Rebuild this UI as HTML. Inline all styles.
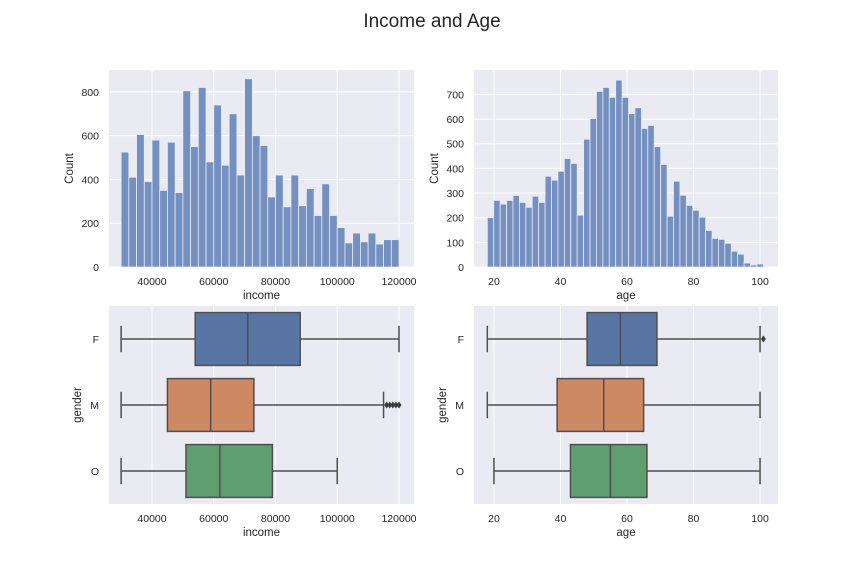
<!DOCTYPE html>
<html><head><meta charset="utf-8"><style>
body{margin:0;background:#fff;}
svg{display:block;font-family:"Liberation Sans",Arial,sans-serif;}
</style></head><body>
<svg id="chart" width="864" height="576">
<text x="432" y="27" text-anchor="middle" font-size="19" fill="#262626">Income and Age</text>
</svg>
<script>
const incomeCounts=[525,410,605,390,580,350,570,340,805,550,820,480,740,465,700,420,860,600,555,320,420,275,420,280,358,235,380,235,180,110,155,115,155,105,125,125];
const incomeRange=[30000,120000];
const ageCounts=[200,270,255,270,290,262,242,287,262,368,352,388,440,420,210,518,602,712,728,688,758,688,622,646,562,574,488,416,206,348,291,250,230,202,148,116,112,96,64,52,16,8,12];
const ageRange=[18,101];
const genders=["F","M","O"];
const incomeBoxes=[[30000,54000,71000,88000,120000],[30000,45000,59000,73000,115000],[30000,51000,62000,79000,100000]];
const incomeOutliers=[[],[116000,117000,118000,119000,120000],[]];
const ageBoxes=[[18,48,58,69,100],[18,39,53,65,100],[20,43,55,66,100]];
const ageOutliers=[[101],[],[]];
const incomeTicks=[40000,60000,80000,100000,120000];
const ageTicks=[20,40,60,80,100];
const incomeCountTicks=[0,200,400,600,800];
const ageCountTicks=[0,100,200,300,400,500,600,700];

const svg=document.getElementById('chart');
const NS='http://www.w3.org/2000/svg';
function mk(tag,attrs,parent){const e=document.createElementNS(NS,tag);for(const k in attrs)e.setAttribute(k,attrs[k]);(parent||svg).appendChild(e);return e;}
function lin(d0,d1,r0,r1){return v=>r0+(v-d0)*(r1-r0)/(d1-d0);}

function panel(name,L,R,T,B,xd,yd,xticks,yticks,xlabel,ylabel){
  const g=mk('g',{});
  
  
  const bg=mk('rect',{x:L,y:T,width:R-L,height:B-T,fill:'#eaeaf2'},g);
  
  
  const x=lin(xd[0],xd[1],L,R), y=lin(yd[0],yd[1],B,T);
  xticks.forEach(t=>{
    mk('line',{x1:x(t),x2:x(t),y1:T,y2:B,stroke:'#fff','stroke-width':1},g);
    const tx=mk('text',{x:x(t),y:B+18,'text-anchor':'middle','font-size':10.5,fill:'#262626'},g);
    tx.textContent=t;
    
    
  });
  yticks.forEach(t=>{
    const yy=y(t);
    mk('line',{x1:L,x2:R,y1:yy,y2:yy,stroke:'#fff','stroke-width':1},g);
    const tx=mk('text',{x:L-10,y:yy+4,'text-anchor':'end','font-size':10.5,fill:'#262626'},g);
    tx.textContent=t;
    
    
  });
  const xl=mk('text',{x:(L+R)/2,y:B+32,'text-anchor':'middle','font-size':11.5,fill:'#262626'},g);
  xl.textContent=xlabel;
  
  
  const yl=mk('text',{x:0,y:0,'text-anchor':'middle','font-size':11.5,fill:'#262626',transform:`translate(${ylabel==='gender'?L-28:L-36},${(T+B)/2}) rotate(-90)`},g);
  yl.textContent=ylabel;
  
  
  return {g,x,y};
}

function hist(name,L,R,T,B,xd,ymax,counts,range,xticks,yticks,xlabel){
  const p=panel(name,L,R,T,B,xd,[0,ymax],xticks,yticks,xlabel,'Count');
  const w=(range[1]-range[0])/counts.length;
  counts.forEach((c,i)=>{
    const x0=p.x(range[0]+i*w), x1=p.x(range[0]+(i+1)*w);
    const r=mk('rect',{x:x0,y:p.y(c),width:x1-x0,height:p.y(0)-p.y(c),fill:'#7390c0',stroke:'#eaeaf2','stroke-width':0.8},p.g);
    
    
  });
}

function box(name,L,R,T,B,xd,boxes,outl,xticks,xlabel){
  const p=panel(name,L,R,T,B,xd,[0,1],xticks,[],xlabel,'gender');
  const n=genders.length, band=(B-T)/n;
  const cols=['#5975a4','#cc8963','#5f9e6e'];
  const sc='#4f4f4f';
  genders.forEach((gname,i)=>{
    const cy=T+band*(i+0.5), h=band*0.8;
    const lab=mk('text',{x:L-10,y:cy+4,'text-anchor':'end','font-size':10.5,fill:'#262626'},p.g);
    lab.textContent=gname;
    
    
    const b=boxes[i];
    const bg=mk('g',{},p.g);
    
    
    mk('line',{x1:p.x(b[0]),x2:p.x(b[1]),y1:cy,y2:cy,stroke:sc,'stroke-width':1.5},bg);
    mk('line',{x1:p.x(b[3]),x2:p.x(b[4]),y1:cy,y2:cy,stroke:sc,'stroke-width':1.5},bg);
    mk('line',{x1:p.x(b[0]),x2:p.x(b[0]),y1:cy-h/4,y2:cy+h/4,stroke:sc,'stroke-width':1.5},bg);
    mk('line',{x1:p.x(b[4]),x2:p.x(b[4]),y1:cy-h/4,y2:cy+h/4,stroke:sc,'stroke-width':1.5},bg);
    mk('rect',{x:p.x(b[1]),y:cy-h/2,width:p.x(b[3])-p.x(b[1]),height:h,fill:cols[i],stroke:sc,'stroke-width':1.5},bg);
    mk('line',{x1:p.x(b[2]),x2:p.x(b[2]),y1:cy-h/2,y2:cy+h/2,stroke:sc,'stroke-width':1.5},bg);
    outl[i].forEach(o=>{
      const d=mk('path',{d:`M${p.x(o)-2.5},${cy} L${p.x(o)},${cy-3.5} L${p.x(o)+2.5},${cy} L${p.x(o)},${cy+3.5}Z`,fill:'#3d3d3d'},bg);
      
      
    });
  });
}

hist('income-histogram',109,414,70,267,[26073,124858],900,incomeCounts,incomeRange,incomeTicks,incomeCountTicks,'income');
hist('age-histogram',474,778,70,267,[14,105.4],799,ageCounts,ageRange,ageTicks,ageCountTicks,'age');
box('income-boxplot',109,414,306,504,[26073,124858],incomeBoxes,incomeOutliers,incomeTicks,'income');
box('age-boxplot',474,778,306,504,[14,105.4],ageBoxes,ageOutliers,ageTicks,'age');
</script>
</body></html>
